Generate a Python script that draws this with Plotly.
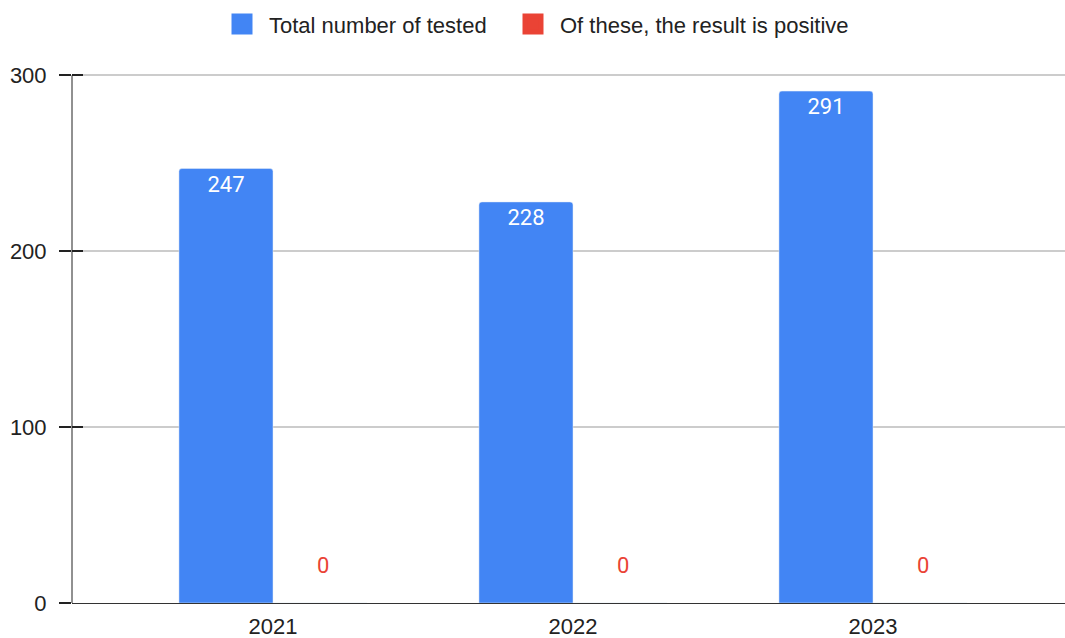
import plotly.graph_objects as go

years = ["2021", "2022", "2023"]
total_tested = [247, 228, 291]
positive = [0, 0, 0]
series_names = ["Total number of tested", "Of these, the result is positive"]
y_ticks = [0, 100, 200, 300]

BLUE = "#4285F4"
RED = "#EA4335"
TXT = "#222222"
Y_RANGE = [0, 303]

fig = go.Figure()
fig.add_trace(go.Bar(
    x=years, y=total_tested, name=series_names[0], showlegend=False,
    marker=dict(color=BLUE, cornerradius=3),
    text=[str(v) for v in total_tested], textposition="inside",
    insidetextanchor="end", textangle=0, constraintext="none",
    insidetextfont=dict(family="Roboto", size=22, color="white"),
))
fig.add_trace(go.Bar(
    x=years, y=positive, name=series_names[1], showlegend=False,
    marker=dict(color=RED),
))

# legend entries (larger square swatches, like the reference)
for name, col, lg in [(series_names[0], BLUE, "legend"), (series_names[1], RED, "legend2")]:
    fig.add_trace(go.Scatter(
        x=[None], y=[None], mode="markers", name=name, yaxis="y2",
        marker=dict(symbol="square", size=16, color=col, line=dict(color=col, width=5)),
        legend=lg, showlegend=True, hoverinfo="skip",
    ))

for i, v in enumerate(positive):
    fig.add_annotation(
        x=i, y=v, xref="x", yref="y", text=str(v), showarrow=False,
        xshift=50, yshift=38, yanchor="middle", xanchor="center",
        font=dict(family="Roboto", size=22, color=RED),
    )

# vertical axis line spanning only the tick range (0 .. 300)
fig.add_shape(
    type="line", xref="paper", yref="y",
    x0=0, x1=0, y0=min(y_ticks), y1=max(y_ticks),
    line=dict(color="#222222", width=1), layer="above",
)

legend_common = dict(
    orientation="h", xref="container", yref="container",
    xanchor="left", y=0.995, yanchor="top", itemwidth=44,
    font=dict(family="Liberation Sans, Arial", size=22, color=TXT),
    bgcolor="rgba(0,0,0,0)",
)

fig.update_layout(
    width=1065, height=638,
    margin=dict(l=72, r=0, t=70, b=35),
    paper_bgcolor="white", plot_bgcolor="white",
    barmode="group", bargap=0.373, bargroupgap=0,
    font=dict(family="Liberation Sans, Arial", size=22, color=TXT),
    showlegend=True,
    legend=dict(x=215 / 1065, **legend_common),
    legend2=dict(x=506 / 1065, **legend_common),
    xaxis=dict(
        type="category", range=[-0.67, 2.64],
        showline=True, linecolor="#333333", linewidth=1,
        ticks="", showgrid=False, zeroline=False,
        tickfont=dict(family="Liberation Sans, Arial", size=22, color=TXT),
        ticklabelstandoff=4,
    ),
    yaxis=dict(
        range=Y_RANGE, tickvals=y_ticks,
        showline=False,
        ticks="outside", ticklen=12, tickcolor="#222222", tickwidth=2,
        showgrid=True, gridcolor="#CCCCCC", gridwidth=1.5,
        zeroline=False,
        tickfont=dict(family="Liberation Sans, Arial", size=22, color=TXT),
        ticklabelstandoff=8,
    ),
    yaxis2=dict(
        overlaying="y", side="left", range=Y_RANGE,
        showline=False, ticks="inside", ticklen=11, tickcolor="#222222", tickwidth=2,
        tickvals=y_ticks, showticklabels=False, showgrid=False, zeroline=False,
    ),
)

fig.write_html(
    "out.html",
    config={"displayModeBar": False},
    post_script="document.body.style.margin='0';document.body.style.overflow='hidden';",
)
